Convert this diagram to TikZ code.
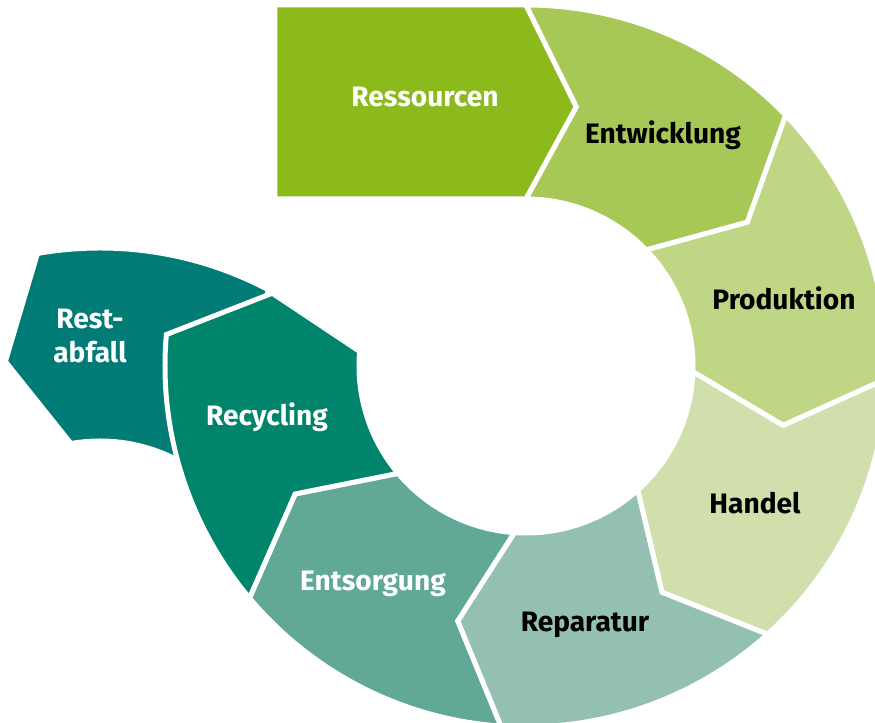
\documentclass[tikz,border=0pt]{standalone}
\usepackage{fontspec}
\setmainfont{Fira Sans}
\definecolor{ressgreen}{HTML}{8CB91B}
\definecolor{entwgreen}{HTML}{A7C856}
\definecolor{prodgreen}{HTML}{BFD685}
\definecolor{handgreen}{HTML}{D1DFAC}
\definecolor{repateal}{HTML}{94C0B2}
\definecolor{entsteal}{HTML}{62A896}
\definecolor{recyteal}{HTML}{00856C}
\definecolor{restteal}{HTML}{007B76}
\tikzset{
    seg/.style={draw=white, line width=1mm},
    lbl/.style={font=\bfseries\fontsize{16}{19}\selectfont, align=center, inner sep=0pt},
    lightlbl/.style={lbl, text=white},
    darklbl/.style={lbl, text=black}
}

\begin{document}
\begin{tikzpicture}[x=0.2mm,y=0.2mm]
\useasboundingbox (-526,-357) rectangle (349,366);
\clip (-526,-357) rectangle (349,366);
% branch to the left, under Recycling
\begin{scope}[shift={(-426,-242)}]
\path[seg, fill=restteal] (62:360) arc[start angle=62, end angle=100, radius=360] -- (111:264) -- (100:167) arc[start angle=100, end angle=60, radius=167] -- cycle;
\end{scope}
% ring
\path[seg, fill=ressgreen] (-251,361) -- (0,361) -- (79:264) -- (0,167) -- (-251,167) -- cycle;
\path[seg, fill=entwgreen] (90:361) arc[start angle=90, end angle=44, radius=361] -- (33:264) -- (44:167) arc[start angle=44, end angle=90, radius=167] -- (79:264) -- cycle;
\path[seg, fill=prodgreen] (44:361) arc[start angle=44, end angle=-2, radius=361] -- (-13:264) -- (-2:167) arc[start angle=-2, end angle=44, radius=167] -- (33:264) -- cycle;
\path[seg, fill=handgreen] (-2:361) arc[start angle=-2, end angle=-48, radius=361] -- (-59:264) -- (-48:167) arc[start angle=-48, end angle=-2, radius=167] -- (-13:264) -- cycle;
\path[seg, fill=repateal] (-48:361) arc[start angle=-48, end angle=-94, radius=361] -- (-105:264) -- (-94:167) arc[start angle=-94, end angle=-48, radius=167] -- (-59:264) -- cycle;
\path[seg, fill=entsteal] (-94:361) arc[start angle=-94, end angle=-140, radius=361] -- (-151:264) -- (-140:167) arc[start angle=-140, end angle=-94, radius=167] -- (-105:264) -- cycle;
\path[seg, fill=recyteal] (-140:361) arc[start angle=-140, end angle=-185, radius=361] -- (-196:264) -- (-185:167) arc[start angle=-185, end angle=-140, radius=167] -- (-151:264) -- cycle;
% labels
\node[lightlbl] (ress) at (-101,269) {Ressourcen};
\node[darklbl] (entw) at (137,231) {Entwicklung};
\node[darklbl] (prod) at (258,68) {Produktion};
\node[darklbl] (hand) at (229,-137) {Handel};
\node[darklbl] (repa) at (59,-259) {Reparatur};
\node[lightlbl] (ents) at (-153,-218) {Entsorgung};
\node[lightlbl] (recy) at (-259,-51) {Recycling};
\node[lightlbl] (rest) at (-436,30) {Rest-\\abfall};
\end{tikzpicture}
\end{document}
